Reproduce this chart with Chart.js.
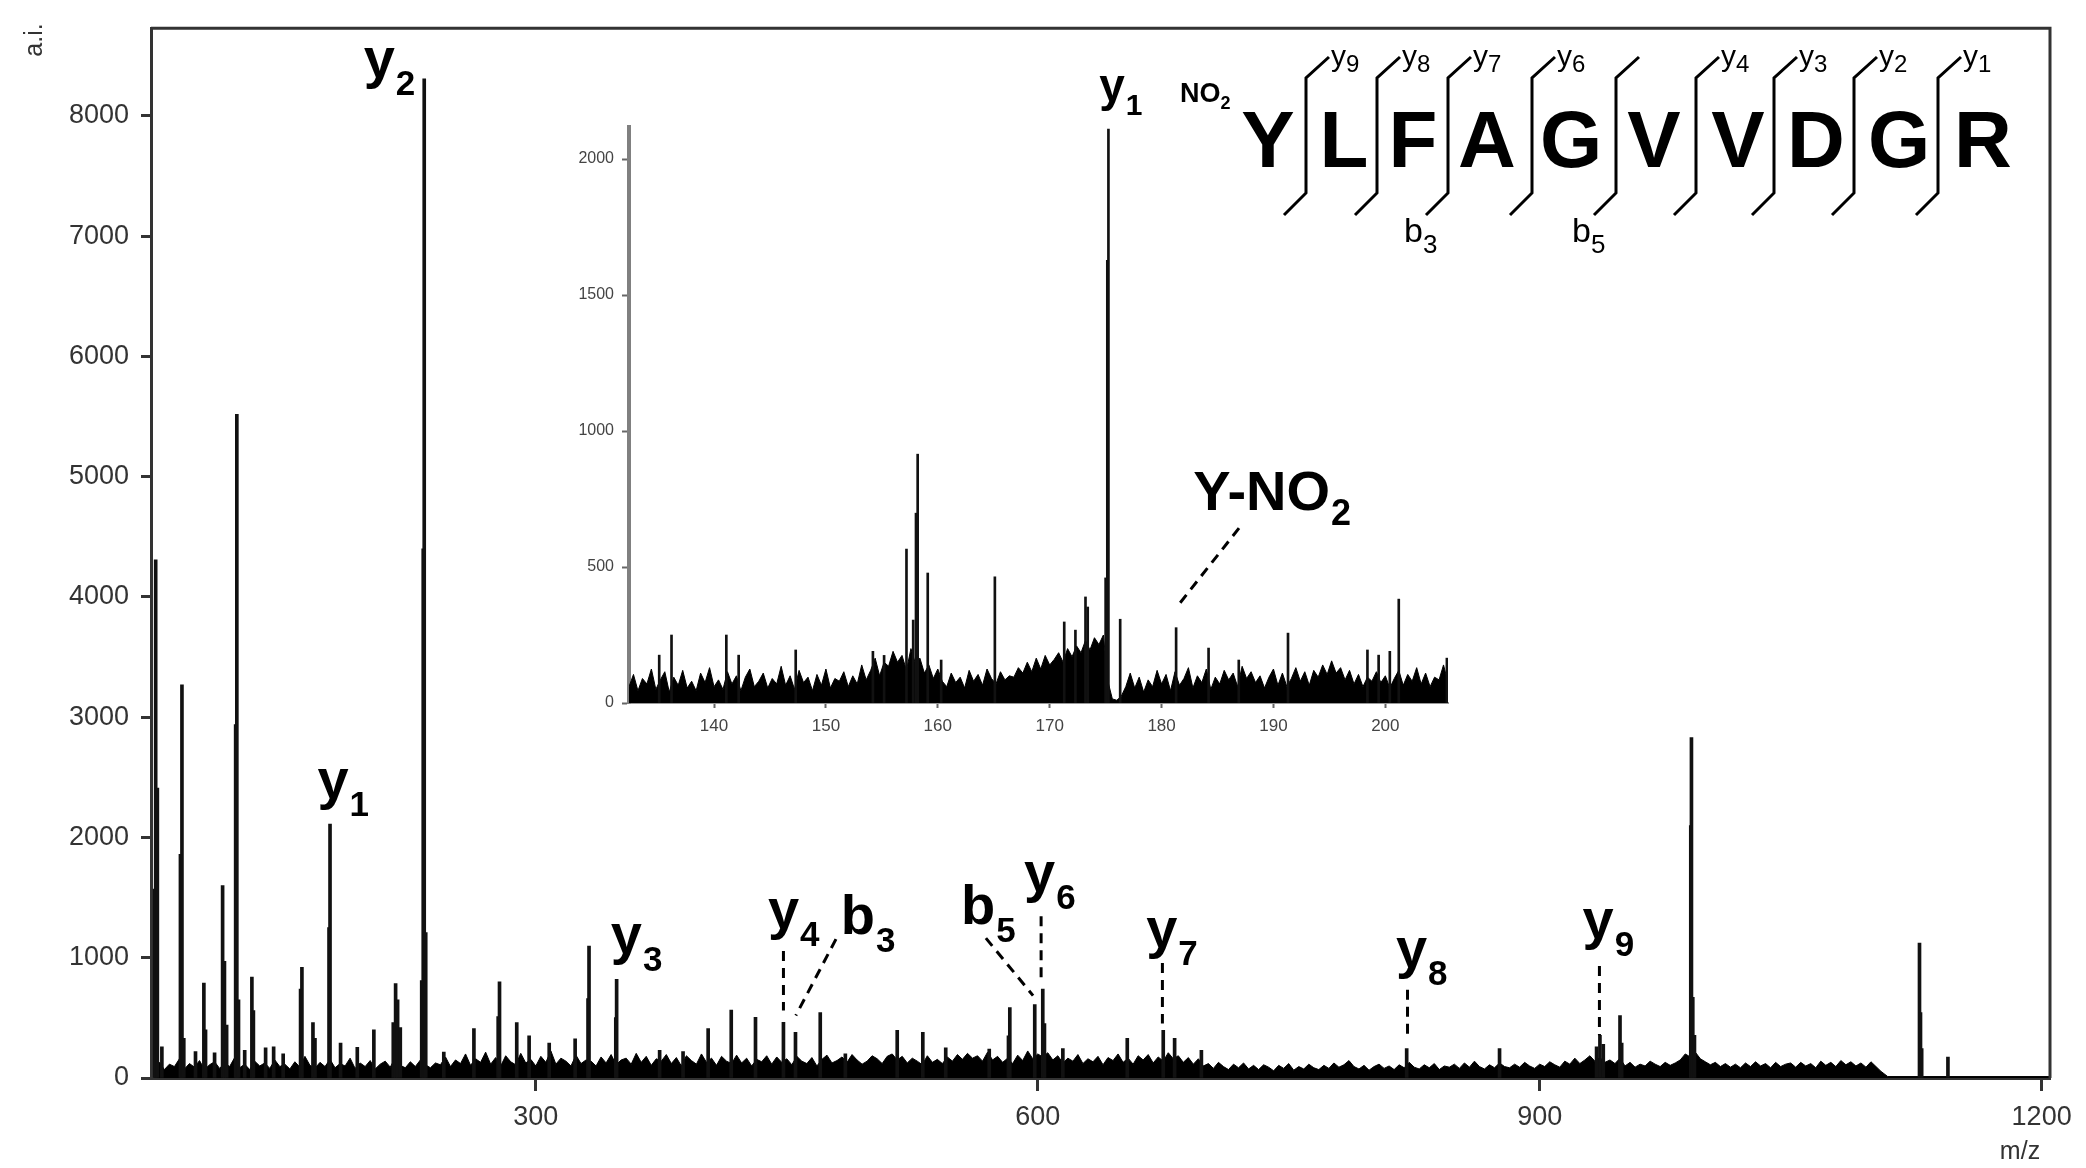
<!DOCTYPE html>
<html>
<head>
<meta charset="utf-8">
<script src="https://cdn.jsdelivr.net/npm/chart.js@4.4.1/dist/chart.umd.min.js"></script>
<style>
  html, body { margin: 0; padding: 0; background: #fff; }
  #wrap { position: relative; width: 2086px; height: 1168px; }
  #mainChart { position: absolute; left: 0; top: 0; }
  #insetChart { position: absolute; left: 540px; top: 50px; }
</style>
</head>
<body>
<div id="wrap">
  <canvas id="mainChart" width="2086" height="1168"></canvas>
  <canvas id="insetChart" width="930" height="720"></canvas>
</div>
<script>
// =========================
// DATA - main spectrum
// =========================

const mainXTicks = [300, 600, 900, 1200];
const mainYTicks = [0, 1000, 2000, 3000, 4000, 5000, 6000, 7000, 8000];

// baseline noise, read every 3 m/z from 72 to 1104
const noiseMainStart = 72;
const noiseMainStep = 3;
const noiseMainValues = [
  // 72 - 240
  85, 130, 70, 115, 95, 160, 75, 120, 90, 145,
  70, 110, 135, 80, 125, 95, 170, 85, 115, 70,
  140, 100, 125, 80, 150, 95, 115, 75, 135, 90,
  180, 105, 80, 130, 95, 155, 85, 120, 100, 165,
  80, 125, 95, 145, 75, 115, 140, 90, 170, 105,
  85, 135, 95, 150, 110, 85, 125,
  // 243 - 699
  110, 175, 95, 150, 120, 200, 105, 160, 130, 215,
  115, 170, 100, 185, 135, 110, 205, 125, 155, 100,
  180, 130, 225, 115, 165, 140, 100, 190, 120, 150,
  140, 100, 175, 125, 195, 110, 150, 165, 115, 205,
  130, 180, 105, 160, 140, 195, 120, 170, 100, 185,
  145, 115, 200, 130, 165, 105, 180, 140, 120, 190,
  125, 165, 100, 155, 135, 185, 115, 175, 130, 160,
  110, 180, 140, 120, 170, 100, 155, 190, 125, 145,
  175, 130, 195, 150, 115, 140, 185, 160, 120, 180,
  200, 150, 180, 125, 165, 140, 110, 185, 130, 155,
  120, 175, 140, 195, 155, 205, 165, 185, 140, 215,
  150, 180, 130, 165, 120, 190, 145, 225, 160, 200,
  175, 210, 150, 185, 125, 165, 140, 195, 120, 160,
  135, 180, 110, 170, 145, 200, 130, 165, 115, 185,
  150, 195, 125, 175, 140, 210, 160, 185, 130, 170,
  115, 160, 100,
  // 702 - 1104
  120, 80, 130, 95, 70, 115, 85, 125, 75, 105,
  70, 110, 90, 60, 105, 80, 120, 65, 95, 75,
  115, 85, 70, 105, 80, 125, 90, 110, 145, 95,
  75, 105, 65, 95, 115, 80, 100, 70, 110, 85,
  130, 90, 75, 110, 85, 120, 70, 100, 90, 115,
  80, 125, 90, 140, 95, 75, 110, 85, 125, 95,
  85, 115, 90, 130, 100, 80, 115, 95, 135, 110,
  90, 140, 115, 165, 120, 150, 185, 140, 170, 130,
  150, 120, 165, 100, 130, 90, 115, 100, 140, 115,
  95, 130, 105, 125, 150, 200, 175, 215, 160, 135,
  110, 130, 95, 120, 90, 115, 85, 125, 95, 135,
  100, 120, 85, 130, 95, 115, 125, 90, 130, 100,
  120, 85, 140, 105, 130, 95, 145, 110, 135, 100,
  125, 90, 135, 95, 55
];
const tailMz = [1108, 1205];
const tailInt = [12, 12];

const peakMz = [
  72.2, 72.8, 73.8, 76.5, 87.6, 88.5, 89.6, 96.6, 101.6, 102.6,
  108, 112.8, 113.9, 115.2, 120.6, 121.3, 122.3, 126, 130.3, 131.2,
  138.5, 143.3, 149, 159.4, 160.2, 166.8, 168, 176.4, 177, 183.3,
  193.3, 203.2, 214.8, 216.2, 217.4, 219, 231.8, 232.7, 233.3, 234.2,
  245, 263, 277.5, 278.3, 288.6, 296, 308, 323.5, 331.2, 331.8,
  347.8, 348.3, 374, 388, 403, 416.8, 431.3, 448, 455.2, 470,
  485, 516, 531.3, 545, 571, 582.5, 583.3, 598.2, 603, 604,
  615, 653.5, 675, 681.8, 697.8, 820.5, 876, 934, 936, 938,
  948, 949, 990.3, 990.7, 991.5, 992.5, 1127, 1127.6, 1128.3, 1144
];
const peakInt = [
  1570, 4310, 2410, 260, 1860, 3270, 330, 220, 790, 400,
  210, 1600, 970, 440, 2940, 5520, 650, 230, 840, 560,
  250, 260, 200, 740, 920, 460, 330, 1250, 2112, 290,
  255, 400, 460, 785, 650, 420, 810, 4400, 8310, 1210,
  215, 412, 510, 800, 460, 350, 290, 325, 660, 1097,
  503, 820, 230, 220, 412, 565, 505, 462, 380, 545,
  200, 396, 380, 250, 240, 350, 586, 610, 740, 453,
  245, 330, 396, 330, 230, 245, 245, 260, 355, 280,
  520, 290, 2100, 2830, 670, 355, 1122, 545, 245, 173
];

// =========================
// DATA - inset (zoom 132-206)
// =========================

const insetXTicks = [140, 150, 160, 170, 180, 190, 200];
const insetYTicks = [0, 500, 1000, 1500, 2000];

// noise read every 0.4 m/z from 132.4 to 205.6
const noiseInsetStart = 132.4;
const noiseInsetStep = 0.4;
const noiseInsetValues = [
  // 132.4 - 153.6
  60, 105, 45, 90, 70, 125, 50, 85, 115, 40,
  95, 65, 120, 55, 80, 45, 110, 75, 130, 60,
  85, 50, 115, 70, 100, 45, 95, 125, 60, 80,
  110, 55, 90, 70, 135, 65, 100, 50, 120, 75,
  95, 45, 105, 65, 125, 55, 90, 80, 115, 60,
  100, 70, 140, 85,
  // 154.0 - 160.4
  120, 165, 100, 150, 135, 190, 150, 175, 120, 200,
  145, 165, 110, 140, 90, 125, 80,
  // 160.8 - 166.4
  60, 110, 75, 95, 55, 120, 80, 105, 65, 125,
  90, 70, 115, 85, 100,
  // 166.8 - 174.8
  95, 130, 110, 150, 115, 165, 125, 175, 140, 160,
  185, 150, 200, 170, 210, 185, 230, 195, 240, 215,
  250,
  // 175.2 - 176.8
  80, 15, 10, 25, 60,
  // 177.2 - 205.6
  110, 55, 95, 40, 85, 60, 120, 70, 105, 45,
  115, 65, 90, 130, 55, 100, 75, 125, 50, 95,
  70, 120, 85, 110, 60, 135, 90, 115, 75, 100,
  55, 95, 125, 65, 110, 60, 90, 130, 80, 115,
  65, 120, 95, 140, 105, 155, 110, 130, 85, 120,
  70, 105, 60, 95, 80, 115, 75, 100, 55, 90,
  120, 65, 105, 80, 130, 70, 110, 60, 95, 85,
  140, 75
];

const insetPeakMz = [
  135.1, 136.2, 141.1, 142.2, 147.3, 154.2, 155.2, 157.2, 157.8, 158.05,
  158.2, 159.1, 160.3, 165.1, 171.3, 172.3, 173.2, 173.4, 175.0, 175.15,
  175.25, 176.3, 181.3, 184.2, 186.9, 191.3, 198.4, 199.4, 200.4, 201.2,
  205.5
];
const insetPeakInt = [
  176, 250, 250, 176, 195, 190, 175, 566, 305, 698,
  915, 478, 158, 464, 298, 268, 390, 353, 460, 1628,
  2110, 308, 277, 202, 158, 257, 195, 176, 190, 382,
  165
];

// =========================
// ANNOTATIONS (anchor in data units)
// =========================

const mainLabels = [
  { ion: 'y', n: '2', mz: 197.1, at: 8325 },
  { ion: 'y', n: '1', mz: 169.5, at: 2327 },
  { ion: 'y', n: '3', mz: 344.8, at: 1040 },
  { ion: 'y', n: '4', mz: 438.7, at: 1246 },
  { ion: 'b', n: '3', mz: 482.3, at: 1196 },
  { ion: 'b', n: '5', mz: 554.1, at: 1279 },
  { ion: 'y', n: '6', mz: 591.8, at: 1559 },
  { ion: 'y', n: '7', mz: 664.8, at: 1089 },
  { ion: 'y', n: '8', mz: 814.1, at: 924 },
  { ion: 'y', n: '9', mz: 925.6, at: 1163 }
];

const mainLeaders = [
  [448, 1056, 448, 561],
  [479.4, 1155, 455.4, 520],
  [569, 1163, 597.2, 685],
  [602, 1345, 602, 833],
  [674.5, 957, 674.5, 454],
  [821, 734, 821, 338],
  [935.7, 932, 935.7, 355]
];

const insetLabels = [
  { ion: 'y', n: '1', mz: 174.43, at: 2213, big: false },
  { ion: 'Y-NO', n: '2', mz: 182.82, at: 710, big: true }
];
const insetLeaders = [
  [186.92, 643, 181.29, 349]
];

// peptide sequence
const residues = ['Y', 'L', 'F', 'A', 'G', 'V', 'V', 'D', 'G', 'R'];
const topIons = ['9', '8', '7', '6', '', '4', '3', '2', '1'];
const bottomIons = ['', '', '3', '', '5', '', '', '', ''];


// =========================
// HELPERS
// =========================

const FONT = '"Liberation Sans", Arial, Helvetica, sans-serif';
Chart.defaults.font.family = FONT;

function noisePoints(start, step, values) {
  return values.map((v, i) => ({ x: start + i * step, y: v }));
}

function pairs(xs, ys) {
  return xs.map((x, i) => ({ x: x, y: ys[i] }));
}

function setTicks(list) {
  return scale => {
    scale.ticks = list.map(v => ({ value: v }));
  };
}

function plainNumber(v) {
  return String(v);
}

function drawLeader(ctx, xs, ys, l) {
  ctx.save();
  ctx.strokeStyle = '#000';
  ctx.lineWidth = 3;
  ctx.setLineDash([10, 7]);
  ctx.beginPath();
  ctx.moveTo(xs.getPixelForValue(l[0]), ys.getPixelForValue(l[1]));
  ctx.lineTo(xs.getPixelForValue(l[2]), ys.getPixelForValue(l[3]));
  ctx.stroke();
  ctx.restore();
}

function drawIon(ctx, xs, ys, lab, mainSize, subSize, drop) {
  const px = xs.getPixelForValue(lab.mz);
  const py = ys.getPixelForValue(lab.at);
  ctx.save();
  ctx.fillStyle = '#000';
  ctx.textAlign = 'left';
  ctx.textBaseline = 'alphabetic';
  ctx.font = 'bold ' + mainSize + 'px ' + FONT;
  ctx.fillText(lab.ion, px, py);
  const w = ctx.measureText(lab.ion).width;
  ctx.font = 'bold ' + subSize + 'px ' + FONT;
  ctx.fillText(lab.n, px + w + 1, py + drop);
  ctx.restore();
}


// =========================
// MAIN CHART
// =========================

const mainDecor = {
  id: 'mainDecor',
  afterDraw(chart) {
    const ctx = chart.ctx;
    const a = chart.chartArea;
    const xs = chart.scales.x;
    const ys = chart.scales.y;

    // frame top + right
    ctx.save();
    ctx.strokeStyle = '#333';
    ctx.lineWidth = 3;
    ctx.beginPath();
    ctx.moveTo(a.left, a.top);
    ctx.lineTo(a.right, a.top);
    ctx.lineTo(a.right, a.bottom);
    ctx.stroke();
    ctx.restore();

    mainLeaders.forEach(l => drawLeader(ctx, xs, ys, l));
    mainLabels.forEach(l => drawIon(ctx, xs, ys, l, 56, 35, 18));

    // axis titles
    ctx.save();
    ctx.fillStyle = '#333';
    ctx.font = '25px ' + FONT;
    ctx.textAlign = 'center';
    ctx.textBaseline = 'middle';
    ctx.fillText('m/z', 2020, 1152);
    ctx.translate(35, 40);
    ctx.rotate(-Math.PI / 2);
    ctx.fillText('a.i.', 0, 0);
    ctx.restore();

    // peptide sequence with fragment brackets
    const letterX = [1268, 1344, 1413, 1487, 1571, 1654, 1738, 1816, 1899, 1983];
    const bracketX = [1306, 1377, 1448, 1532, 1616, 1696, 1774, 1854, 1938];

    ctx.save();
    ctx.fillStyle = '#000';
    ctx.textBaseline = 'alphabetic';
    ctx.textAlign = 'center';
    ctx.font = 'bold 80px ' + FONT;
    residues.forEach((r, i) => ctx.fillText(r, letterX[i], 167));

    ctx.textAlign = 'left';
    ctx.font = 'bold 27px ' + FONT;
    ctx.fillText('NO', 1180, 102);
    const wNO = ctx.measureText('NO').width;
    ctx.font = 'bold 18px ' + FONT;
    ctx.fillText('2', 1180 + wNO, 109);

    ctx.strokeStyle = '#000';
    ctx.lineWidth = 3;
    bracketX.forEach((bx, i) => {
      ctx.beginPath();
      ctx.moveTo(bx - 22, 215);
      ctx.lineTo(bx, 193);
      ctx.lineTo(bx, 78);
      ctx.lineTo(bx + 23, 57);
      ctx.stroke();

      if (topIons[i]) {
        ctx.font = '30px ' + FONT;
        ctx.fillText('y', bx + 25, 66);
        const wy = ctx.measureText('y').width;
        ctx.font = '24px ' + FONT;
        ctx.fillText(topIons[i], bx + 25 + wy, 72);
      }
      if (bottomIons[i]) {
        ctx.font = '34px ' + FONT;
        ctx.fillText('b', bx - 44, 242);
        const wb = ctx.measureText('b').width;
        ctx.font = '26px ' + FONT;
        ctx.fillText(bottomIons[i], bx - 44 + wb, 253);
      }
    });
    ctx.restore();
  }
};

const mainNoise = noisePoints(noiseMainStart, noiseMainStep, noiseMainValues)
  .concat(pairs(tailMz, tailInt));

new Chart(document.getElementById('mainChart'), {
  type: 'bar',
  data: {
    datasets: [
      {
        type: 'bar',
        data: pairs(peakMz, peakInt),
        backgroundColor: '#111',
        barThickness: 3,
        grouped: false
      },
      {
        type: 'line',
        data: mainNoise,
        borderColor: '#000',
        backgroundColor: '#000',
        borderWidth: 1,
        pointRadius: 0,
        tension: 0,
        fill: 'origin'
      }
    ]
  },
  options: {
    responsive: false,
    animation: false,
    layout: { padding: { top: 20, right: 36, left: 0, bottom: 0 } },
    plugins: {
      legend: { display: false },
      tooltip: { enabled: false }
    },
    scales: {
      x: {
        type: 'linear',
        min: 70,
        max: 1205,
        offset: false,
        afterBuildTicks: setTicks(mainXTicks),
        afterFit: s => { s.height = 90; },
        grid: {
          offset: false,
          drawOnChartArea: false,
          drawTicks: true,
          tickLength: 13,
          tickWidth: 3,
          tickColor: '#333'
        },
        border: { display: true, color: '#333', width: 3 },
        ticks: {
          font: { size: 27 },
          color: '#333',
          padding: 10,
          maxRotation: 0,
          callback: plainNumber
        }
      },
      y: {
        min: 0,
        max: 8730,
        afterBuildTicks: setTicks(mainYTicks),
        afterFit: s => { s.width = 151; },
        grid: {
          drawOnChartArea: false,
          drawTicks: true,
          tickLength: 10,
          tickWidth: 3,
          tickColor: '#333'
        },
        border: { display: true, color: '#333', width: 3 },
        ticks: {
          font: { size: 27 },
          color: '#333',
          padding: 12,
          callback: plainNumber
        }
      }
    }
  },
  plugins: [mainDecor]
});


// =========================
// INSET CHART
// =========================

const insetDecor = {
  id: 'insetDecor',
  afterDraw(chart) {
    const ctx = chart.ctx;
    const xs = chart.scales.x;
    const ys = chart.scales.y;
    insetLeaders.forEach(l => drawLeader(ctx, xs, ys, l));
    insetLabels.forEach(l => {
      if (l.big) drawIon(ctx, xs, ys, l, 56, 36, 15);
      else drawIon(ctx, xs, ys, l, 46, 30, 14);
    });
  }
};

new Chart(document.getElementById('insetChart'), {
  type: 'bar',
  data: {
    datasets: [
      {
        type: 'bar',
        data: pairs(insetPeakMz, insetPeakInt),
        backgroundColor: '#111',
        barThickness: 2,
        grouped: false
      },
      {
        type: 'line',
        data: noisePoints(noiseInsetStart, noiseInsetStep, noiseInsetValues),
        borderColor: '#000',
        backgroundColor: '#000',
        borderWidth: 1,
        pointRadius: 0,
        tension: 0,
        fill: 'origin'
      }
    ]
  },
  options: {
    responsive: false,
    animation: false,
    layout: { padding: { top: 77, right: 22, left: 0, bottom: 0 } },
    plugins: {
      legend: { display: false },
      tooltip: { enabled: false }
    },
    scales: {
      x: {
        type: 'linear',
        min: 132.4,
        max: 205.6,
        offset: false,
        afterBuildTicks: setTicks(insetXTicks),
        afterFit: s => { s.height = 67; },
        grid: {
          offset: false,
          drawOnChartArea: false,
          drawTicks: true,
          tickLength: 5,
          tickWidth: 2,
          tickColor: '#666'
        },
        border: { display: true, color: '#999', width: 2 },
        ticks: {
          font: { size: 17 },
          color: '#444',
          padding: 8,
          maxRotation: 0,
          callback: plainNumber
        }
      },
      y: {
        min: 0,
        max: 2118,
        afterBuildTicks: setTicks(insetYTicks),
        afterFit: s => { s.width = 89; },
        grid: {
          drawOnChartArea: false,
          drawTicks: true,
          tickLength: 7,
          tickWidth: 2,
          tickColor: '#666'
        },
        border: { display: true, color: '#808080', width: 4 },
        ticks: {
          font: { size: 16 },
          color: '#444',
          padding: 8,
          callback: plainNumber
        }
      }
    }
  },
  plugins: [insetDecor]
});
</script>
</body>
</html>
